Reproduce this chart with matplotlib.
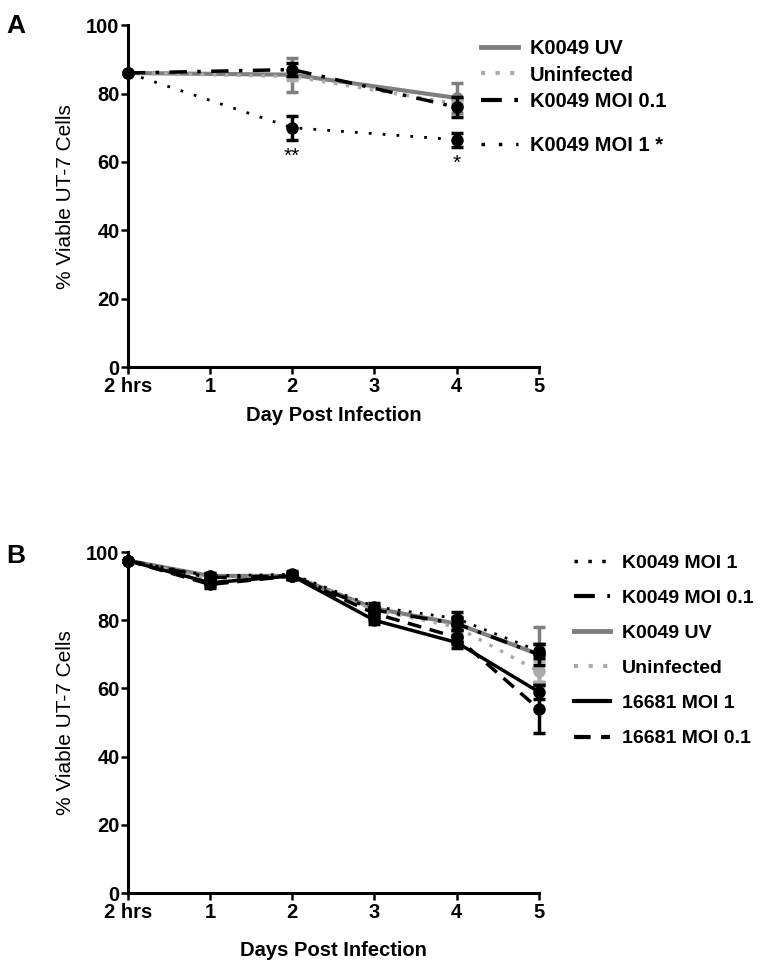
import matplotlib
matplotlib.use("Agg")
import matplotlib.pyplot as plt
from matplotlib.lines import Line2D

plt.rcParams['font.family'] = ['Liberation Sans', 'DejaVu Sans']

# ---------------- Data ----------------
x_labels = ["2 hrs", "1", "2", "3", "4", "5"]

# Panel A (days: 2 hrs, 2, 4)
a_x = [0, 2, 4]
a_uv = [86, 85.5, 78.7]
a_uv_err = [0, 5, 4.5]
a_uninf = [86, 85, 77]
a_uninf_err = [0, 1, 1]
a_moi01 = [86, 87, 76]
a_moi01_err = [0, 2, 3]
a_moi1 = [86, 70, 66.5]
a_moi1_err = [0, 3.5, 2]
a_stars = ["", "**", "*"]

# Panel B (days: 2 hrs, 1, 2, 3, 4, 5)
b_x = [0, 1, 2, 3, 4, 5]
b_k_moi1 = [97.5, 93, 93.5, 84, 80.5, 71]
b_k_moi1_err = [0, 1, 1, 1, 2, 2]
b_k_moi01 = [97.5, 92.5, 93, 83, 79, 70]
b_k_moi01_err = [0, 1, 1, 1, 2, 3]
b_k_uv = [97.5, 93, 93, 83.5, 79, 70]
b_k_uv_err = [0, 1, 1, 1, 2, 8]
b_uninf = [97.5, 92, 93, 83, 78, 65]
b_uninf_err = [0, 1, 1, 1, 2, 3]
b_16_moi1 = [97.5, 91, 93, 80, 73.5, 59]
b_16_moi1_err = [0, 1, 1, 1, 1.5, 2]
b_16_moi01 = [97.5, 90.5, 93, 82, 75, 54]
b_16_moi01_err = [0, 1, 1, 1, 2, 7]

# ---------------- Figure ----------------
fig = plt.figure(figsize=(7.61, 9.66), dpi=100)

BLACK = "black"
GREY = "#7f7f7f"
LGREY = "#ababab"
TICK_FS = 14.5

def style_axis(ax, xlabel, labelpad):
    ax.set_xlim(0, 5)
    ax.set_ylim(0, 100)
    ax.set_xticks(range(6))
    ax.set_xticklabels(x_labels)
    ax.set_yticks(range(0, 101, 20))
    for s in ["top", "right"]:
        ax.spines[s].set_visible(False)
    for s in ["left", "bottom"]:
        ax.spines[s].set_linewidth(2.2)
    ax.tick_params(width=1.8, length=5, labelsize=TICK_FS)
    ax.tick_params(axis="y", pad=1)
    ax.tick_params(axis="x", pad=2)
    for lab in ax.get_xticklabels() + ax.get_yticklabels():
        lab.set_fontweight("bold")
    ax.set_ylabel("% Viable UT-7 Cells", fontsize=15, labelpad=8)
    ax.set_xlabel(xlabel, fontsize=14.5, fontweight="bold", labelpad=labelpad)

def series(ax, x, y, err, color, ls, lw, label, z):
    ax.errorbar(x, y, yerr=err, color=color, ls=ls, lw=lw, marker="o",
                markersize=8, capsize=4, capthick=2.5, elinewidth=2.5,
                clip_on=False, zorder=z)
    return Line2D([], [], color=color, ls=ls, lw=lw + 0.5, label=label)

def leg_kw(size):
    return dict(frameon=False, prop={"weight": "bold", "size": size},
                handlelength=1.85, handletextpad=0.6)

# Panel A
axA = fig.add_axes([0.168, 0.620, 0.540, 0.354])
hA = [
    series(axA, a_x, a_uv, a_uv_err, GREY, "-", 3, "K0049 UV", 3),
    series(axA, a_x, a_uninf, a_uninf_err, LGREY, (0, (1, 2.5)), 2.5, "Uninfected", 4),
    series(axA, a_x, a_moi01, a_moi01_err, BLACK, (0, (5, 3, 1, 3)), 2.5, "K0049 MOI 0.1", 5),
    series(axA, a_x, a_moi1, a_moi1_err, BLACK, (0, (1, 4)), 2, "K0049 MOI 1 *", 6),
]
for xi, yi, ei, st in zip(a_x, a_moi1, a_moi1_err, a_stars):
    if st:
        axA.annotate(st, (xi, yi - ei), xytext=(0, -5), textcoords="offset points",
                     ha="center", va="top", fontsize=15)
style_axis(axA, "Day Post Infection", 7)

leg1 = axA.legend(handles=hA[:3], loc="upper left", bbox_to_anchor=(0.815, 1.011),
                  labelspacing=0.35, **leg_kw(14.5))
axA.add_artist(leg1)
axA.legend(handles=hA[3:], loc="upper left", bbox_to_anchor=(0.815, 0.729),
           **leg_kw(14.5))

# Panel B
axB = fig.add_axes([0.168, 0.0755, 0.540, 0.353])
hB = {}
hB["uv"] = series(axB, b_x, b_k_uv, b_k_uv_err, GREY, "-", 3, "K0049 UV", 3)
hB["un"] = series(axB, b_x, b_uninf, b_uninf_err, LGREY, (0, (1, 2.5)), 2.5, "Uninfected", 4)
hB["k1"] = series(axB, b_x, b_k_moi1, b_k_moi1_err, BLACK, (0, (1, 3)), 2, "K0049 MOI 1", 5)
hB["k01"] = series(axB, b_x, b_k_moi01, b_k_moi01_err, BLACK, (0, (5, 3, 1, 3)), 2.5, "K0049 MOI 0.1", 6)
hB["s1"] = series(axB, b_x, b_16_moi1, b_16_moi1_err, BLACK, "-", 2.5, "16681 MOI 1", 7)
hB["s01"] = series(axB, b_x, b_16_moi01, b_16_moi01_err, BLACK, (0, (4, 2.5)), 2.5, "16681 MOI 0.1", 8)
style_axis(axB, "Days Post Infection", 14)

axB.legend(handles=[hB[k] for k in ["k1", "k01", "uv", "un", "s1", "s01"]],
           loc="upper left", bbox_to_anchor=(1.044, 1.045),
           labelspacing=0.9, **leg_kw(14))

fig.text(0.008, 0.985, "A", fontsize=19, fontweight="bold", va="top")
fig.text(0.008, 0.437, "B", fontsize=19, fontweight="bold", va="top")

fig.savefig("out.png", dpi=100)
